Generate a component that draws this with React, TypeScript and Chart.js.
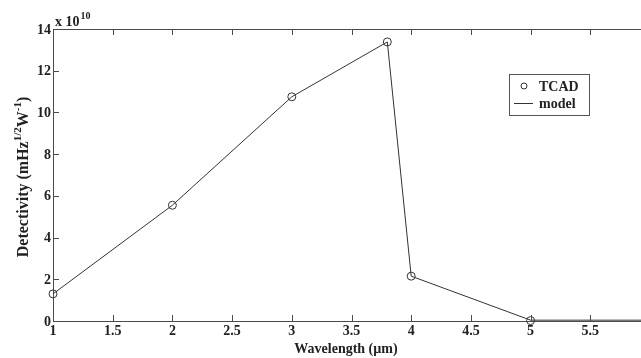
import React, { useEffect, useRef } from "react";
import { Chart, registerables } from "chart.js";
Chart.register(...registerables);

const tcadWavelengths = [1, 2, 3, 3.8, 4, 5];
const tcadValues = [1.3, 5.55, 10.75, 13.38, 2.15, 0.02];
const modelWavelengths = [1, 2, 3, 3.8, 4, 5, 6];
const modelValues = [1.3, 5.55, 10.75, 13.38, 2.15, 0.04, 0.04];
const xTicks = [1, 1.5, 2, 2.5, 3, 3.5, 4, 4.5, 5, 5.5, 6];
const yTicks = [0, 2, 4, 6, 8, 10, 12, 14];
const seriesNames = ["TCAD", "model"];

const FONT = "bold 14px 'Liberation Serif', 'Times New Roman', serif";
const AXIS = "#4a4a4a";
const INK = "#222";

const decorPlugin = {
  id: "decor",
  afterDraw(chart: any) {
    const { ctx, chartArea } = chart;
    const { left, right, top, bottom } = chartArea;
    const xs = chart.scales.x;
    const ys = chart.scales.y;
    ctx.save();
    ctx.strokeStyle = AXIS;
    ctx.lineWidth = 1;
    // top border
    ctx.beginPath();
    ctx.moveTo(left, Math.round(top) + 0.5);
    ctx.lineTo(right, Math.round(top) + 0.5);
    ctx.stroke();
    // x ticks (inward, bottom and top)
    xTicks.forEach((v) => {
      const px = Math.round(xs.getPixelForValue(v)) + 0.5;
      ctx.beginPath();
      ctx.moveTo(px, bottom);
      ctx.lineTo(px, bottom - 6);
      ctx.moveTo(px, top);
      ctx.lineTo(px, top + 6);
      ctx.stroke();
    });
    yTicks.forEach((v) => {
      const py = Math.round(ys.getPixelForValue(v)) + 0.5;
      ctx.beginPath();
      ctx.moveTo(left, py);
      ctx.lineTo(left + 6, py);
      ctx.stroke();
    });
    // tick labels
    ctx.fillStyle = INK;
    ctx.font = FONT;
    ctx.textAlign = "center";
    ctx.textBaseline = "top";
    xTicks.forEach((v) => {
      ctx.fillText(String(v), xs.getPixelForValue(v), bottom + 3);
    });
    ctx.textAlign = "right";
    ctx.textBaseline = "middle";
    yTicks.forEach((v) => {
      ctx.fillText(String(v), left - 2, ys.getPixelForValue(v) + 1);
    });
    // exponent label
    ctx.textAlign = "left";
    ctx.textBaseline = "alphabetic";
    ctx.fillText("x 10", left + 2, top - 3);
    const w10 = ctx.measureText("x 10").width;
    ctx.font = "bold 10px 'Liberation Serif', serif";
    ctx.fillText("10", left + 2 + w10 + 1, top - 10);
    // x title
    ctx.font = FONT;
    ctx.textAlign = "center";
    ctx.textBaseline = "alphabetic";
    ctx.fillText("Wavelength (\u00b5m)", 346, 353);
    // y title with superscripts
    const segs: [string, boolean][] = [
      ["Detectivity (mHz", false],
      ["1/2", true],
      ["W", false],
      ["-1", true],
      [")", false],
    ];
    const mainFont = "bold 16px 'Liberation Serif', serif";
    const supFont = "bold 11px 'Liberation Serif', serif";
    let total = 0;
    segs.forEach(([t, sup]) => {
      ctx.font = sup ? supFont : mainFont;
      total += ctx.measureText(t).width;
    });
    ctx.save();
    ctx.translate(28, 177);
    ctx.rotate(-Math.PI / 2);
    let cx = -total / 2;
    ctx.textAlign = "left";
    segs.forEach(([t, sup]) => {
      ctx.font = sup ? supFont : mainFont;
      ctx.fillText(t, cx, sup ? -7 : 0);
      cx += ctx.measureText(t).width;
    });
    ctx.restore();
    // legend
    const bx = 509.5, by = 74.5, bw = 80, bh = 41;
    ctx.fillStyle = "#fff";
    ctx.fillRect(bx, by, bw, bh);
    ctx.strokeStyle = "#555";
    ctx.strokeRect(bx, by, bw, bh);
    ctx.strokeStyle = "#333";
    ctx.beginPath();
    ctx.arc(524, 86, 3, 0, Math.PI * 2);
    ctx.stroke();
    ctx.beginPath();
    ctx.moveTo(514, 103.5);
    ctx.lineTo(533, 103.5);
    ctx.stroke();
    ctx.fillStyle = INK;
    ctx.font = FONT;
    ctx.textAlign = "left";
    ctx.textBaseline = "middle";
    ctx.fillText(seriesNames[0], 539, 87);
    ctx.fillText(seriesNames[1], 539, 104);
    ctx.restore();
  },
};

export default function App() {
  const ref = useRef<HTMLCanvasElement>(null);
  useEffect(() => {
    if (!ref.current) return;
    const chart = new Chart(ref.current, {
      type: "scatter",
      data: {
        datasets: [
          {
            label: seriesNames[1],
            type: "line",
            data: modelWavelengths.map((x, i) => ({ x, y: modelValues[i] })),
            borderColor: "#333",
            borderWidth: 1,
            pointRadius: 0,
            showLine: true,
            fill: false,
            tension: 0,
            clip: false as any,
          },
          {
            label: seriesNames[0],
            type: "scatter",
            data: tcadWavelengths.map((x, i) => ({ x, y: tcadValues[i] })),
            borderColor: "#333",
            backgroundColor: "rgba(0,0,0,0)",
            borderWidth: 1,
            pointRadius: 4,
            pointStyle: "circle",
            clip: false as any,
          },
        ],
      },
      options: {
        responsive: false,
        animation: false,
        layout: { padding: { left: 53, top: 29, right: 50, bottom: 37 } },
        plugins: { legend: { display: false }, tooltip: { enabled: false } },
        scales: {
          x: {
            type: "linear",
            min: 1,
            max: 6,
            grid: { display: false, drawTicks: false },
            border: { display: true, color: AXIS, width: 1 },
            ticks: { display: false },
          },
          y: {
            type: "linear",
            min: 0,
            max: 14,
            grid: { display: false, drawTicks: false },
            border: { display: true, color: AXIS, width: 1 },
            ticks: { display: false },
          },
        },
      },
      plugins: [decorPlugin],
    });
    return () => chart.destroy();
  }, []);
  return (
    <div
      style={{
        position: "fixed",
        left: 0,
        top: 0,
        width: 641,
        height: 358,
        overflow: "hidden",
        background: "#fff",
      }}
    >
      <canvas ref={ref} width={700} height={358} style={{ width: 700, height: 358 }} />
    </div>
  );
}
